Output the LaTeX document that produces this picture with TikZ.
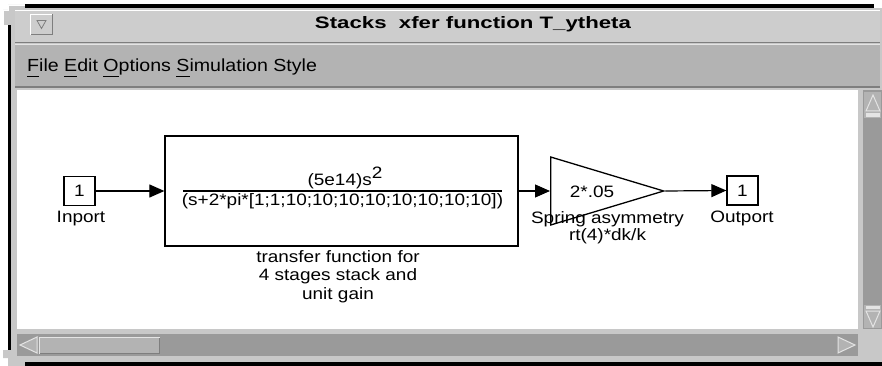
\documentclass[tikz,border=0pt]{standalone}
\usepackage{fontspec}
\setmainfont{Liberation Sans}
\newfontfamily\uifont[FakeStretch=1.15]{Liberation Sans}
\newfontfamily\menufont[FakeStretch=1.12]{Liberation Sans}
\usetikzlibrary{arrows.meta,shapes.geometric}
\definecolor{frameG}{HTML}{C8C8C8}
\definecolor{titleG}{HTML}{CDCDCD}
\definecolor{menuG}{HTML}{B3B3B3}
\definecolor{troughG}{HTML}{9A9A9A}
\definecolor{darkG}{HTML}{7E7E7E}
\definecolor{liteG}{HTML}{E4E4E4}
\newcommand\mnu[1]{\setbox0\hbox{#1}\rlap{\rule[-5pt]{\wd0}{1.3pt}}#1}
\begin{document}
\begin{tikzpicture}[x=1pt,y=-1pt,
  dtext/.style={inner sep=0pt,font=\uifont\fontsize{16.5}{18.5}\selectfont},
  port/.style={draw,line width=1.3pt,minimum width=31pt,minimum height=29pt,inner sep=0pt,font=\uifont\fontsize{16.5}{18.5}\selectfont},
  block/.style={draw,line width=1.3pt,inner sep=0pt},
  conn/.style={line width=1.2pt,-{Triangle[length=15pt,width=13pt]}}]
\useasboundingbox (0,0) rectangle (882,366);
\fill[white] (0,0) rectangle (882,366);
% window frame
\fill[frameG] (11,8) rectangle (882,362);
\fill[frameG] (3,10) -- (8,10) -- (8,5) -- (25,5) -- (25,25) -- (3,25) -- cycle;
\fill[frameG] (3,350) -- (25,350) -- (25,366) -- (8,366) -- (8,358) -- (3,358) -- cycle;
\draw[white,line width=1pt] (3.5,25) -- (3.5,10.5) -- (8.5,10.5) -- (8.5,5.5) -- (25,5.5);
\fill[black] (8,25) rectangle (11,350);
\fill[black] (25,4) rectangle (874,8);
\fill[black] (25,362) rectangle (882,366);
% title bar
\fill[titleG] (15,10) rectangle (880,42);
\draw[white,line width=1pt] (15,10.5) -- (880,10.5);
\draw[darkG,line width=1.5pt] (15,42.5) -- (880,42.5);
\draw[liteG,line width=1pt] (15,44.5) -- (880,44.5);
\fill[titleG] (30,14) rectangle (53,35);
\draw[white,line width=1pt] (30.5,35) -- (30.5,14.5) -- (53,14.5);
\draw[darkG,line width=1pt] (30.5,34.5) -- (52.5,34.5) -- (52.5,14.5);
\draw[darkG,line width=0.8pt] (37,20.5) -- (46,20.5) -- (41.5,28.5) -- cycle;
\node[anchor=base,inner sep=0pt] (title) at (473,29)
  {\resizebox{316pt}{12pt}{\bfseries Stacks\ \ xfer function T\_ytheta}};
% menu bar
\fill[menuG] (15,45) rectangle (880,87);
\draw[darkG,line width=2pt] (15,87) -- (880,87);
\node[anchor=base west,inner sep=0pt] (menu) at (27,72)
  {\menufont\fontsize{17.5}{20}\selectfont \mnu{F}ile \mnu{E}dit \mnu{O}ptions \mnu{S}imulation Style};
% canvas
\fill[white] (17,90) rectangle (858,329);
% vertical scrollbar
\fill[troughG] (863,90) rectangle (882,329);
\fill[menuG] (864,92) rectangle (881,118);
\draw[liteG,line width=1pt,fill=menuG] (866,111) -- (873,95) -- (880,111) -- cycle;
\fill[liteG] (866,113) rectangle (880,117);
\fill[menuG] (864,305) rectangle (881,328);
\draw[liteG,line width=1pt,fill=menuG] (866,311) -- (880,311) -- (873,327) -- cycle;
\fill[liteG] (866,306) rectangle (880,309);
% horizontal scrollbar
\fill[troughG] (17,334) rectangle (858,356);
\draw[liteG,line width=1pt,fill=menuG] (20,345) -- (37,337) -- (37,353) -- cycle;
\fill[menuG] (39,337) rectangle (160,354);
\draw[liteG,line width=1pt] (39.5,354) -- (39.5,337.5) -- (160,337.5);
\draw[darkG,line width=1pt] (40,353.5) -- (159.5,353.5) -- (159.5,338);
\draw[liteG,line width=1pt,fill=menuG] (838,337) -- (855,345) -- (838,353) -- cycle;
% diagram
\node[port] (inport) at (79.5,191) {1};
\node[dtext,anchor=base] (inlbl) at (81,222) {Inport};
\node[block,minimum width=353pt,minimum height=110pt] (tf) at (341.5,191) {};
\node[dtext,anchor=base] (num) at (345,185) {(5e14)s\raisebox{6pt}{2}};
\draw[line width=1.2pt] (183,191) -- (502,191);
\node[dtext,anchor=base] (den) at (342.5,205) {(s+2*pi*[1;1;10;10;10;10;10;10;10;10])};
\node[dtext,anchor=north,align=center] (tflbl) at (338,250) {transfer function for\\4 stages stack and\\unit gain};
\node[block,isosceles triangle,isosceles triangle stretches,minimum width=68pt,minimum height=113pt,anchor=west] (gain) at (550,191) {};
\node[dtext,anchor=base] (gaintxt) at (592,197) {2*.05};
\node[dtext,anchor=base,align=center,font=\uifont\fontsize{16.5}{17}\selectfont] (gainlbl) at (607.5,240) {Spring asymmetry\\rt(4)*dk/k};
\node[port] (outport) at (742.5,190.5) {1};
\node[dtext,anchor=base] (outlbl) at (742,222) {Outport};
\draw[conn] (inport.east) -- (tf.west);
\draw[conn] (tf.east) -- (gain.west);
\draw[conn] (gain.east) -- (outport.west);
\end{tikzpicture}
\end{document}
